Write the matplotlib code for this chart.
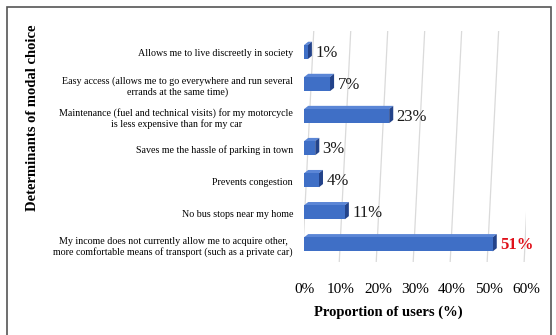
import matplotlib
matplotlib.use("Agg")
import matplotlib.pyplot as plt
from matplotlib.patches import Polygon, Rectangle

categories = [
    "Allows me to live discreetly in society",
    "Easy access (allows me to go everywhere and run several\nerrands at the same time)",
    "Maintenance (fuel and technical visits) for my motorcycle\nis less expensive than for my car",
    "Saves me the hassle of parking in town",
    "Prevents congestion",
    "No bus stops near my home",
    "My income does not currently allow me to acquire other,\nmore comfortable means of transport (such as a private car)",
]
values = [1, 7, 23, 3, 4, 11, 51]
xticks = [0, 10, 20, 30, 40, 50, 60]
xticklabels = ["0%", "10%", "20%", "30%", "40%", "50%", "60%"]

serif = "Liberation Serif"
front_c = "#3f6fc6"
side_c = "#23438a"
top_c = "#5b86d6"

fig = plt.figure(figsize=(5.56, 3.35), dpi=100)
ax = fig.add_axes([0.547, 0.218, 0.399, 0.689])

n = len(categories)
ypos = list(range(n))
h = 0.44
dx = 1.1
dy = 0.10

ax.set_xlim(0, 60)
ax.set_ylim(n - 0.4, -0.6)

for t in xticks:
    ax.plot([t - 0.5, t + 2.6], [n - 0.4, -0.6], color="#dadada", lw=0.9, zorder=0)

for y, v in zip(ypos, values):
    top = y - h / 2 + 0.05
    bot = y + h / 2 + 0.05
    ax.add_patch(Polygon([(0, top), (v, top), (v + dx, top - dy), (dx, top - dy)],
                         closed=True, facecolor=top_c, edgecolor="none", zorder=2))
    ax.add_patch(Polygon([(v, top), (v, bot), (v + dx, bot - dy), (v + dx, top - dy)],
                         closed=True, facecolor=side_c, edgecolor="none", zorder=2))
    ax.add_patch(Rectangle((0, top), v, h, facecolor=front_c, edgecolor="none", zorder=3))
    is_max = v == max(values)
    ax.text(v + dx + 0.9, y + 0.08, f"{v}%", fontsize=12,
            family=serif, va="center", ha="left",
            color="#e0101a" if is_max else "#1a1a1a",
            fontweight="bold" if is_max else "normal", zorder=4)

ax.set_yticks([y + 0.08 for y in ypos])
ax.set_yticklabels(categories, fontsize=7.2, family=serif, multialignment="center")
ax.set_xticks(xticks)
ax.set_xticklabels(xticklabels, fontsize=11, family=serif)
ax.tick_params(axis="y", length=0, pad=8)
ax.tick_params(axis="x", length=0, pad=15)
for s in ax.spines.values():
    s.set_visible(False)

fig.text(388 / 556, 1 - 312 / 335, "Proportion of users (%)", ha="center", va="center",
         fontsize=10.5, fontweight="bold", family=serif)
fig.text(33 / 556, 1 - 118 / 335, "Determinants of modal choice", ha="center", va="center",
         rotation=90, fontsize=10.5, fontweight="bold", family=serif)

fig.patches.append(Rectangle((7 / 556, -0.05), 544 / 556, 1.05 - 7 / 335,
                             transform=fig.transFigure, fill=False,
                             edgecolor="#555555", lw=1.2))

fig.savefig("out.png", dpi=100)
